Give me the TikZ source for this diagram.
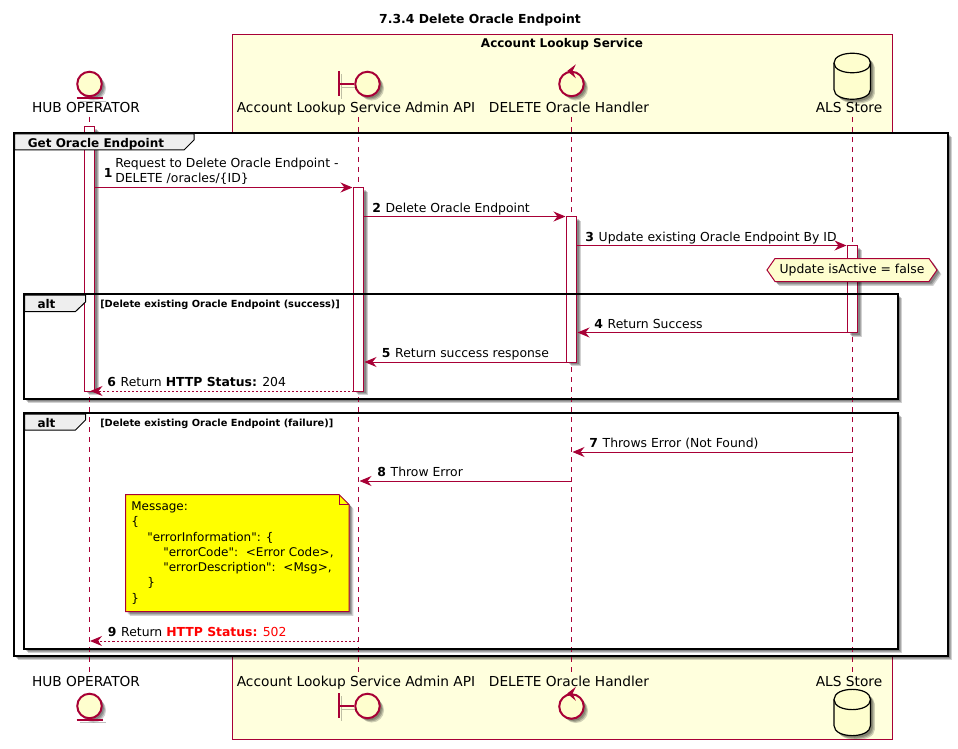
\documentclass[tikz,border=0pt]{standalone}
\usepackage{fontspec}
\setmainfont{DejaVu Sans}
\newfontfamily\notefont{DejaVu Sans}
\usetikzlibrary{arrows.meta,shadows,shapes.geometric}
\definecolor{crim}{HTML}{A80036}
\definecolor{actorfill}{HTML}{FEFECE}
\definecolor{boxfill}{HTML}{FFFFDD}
\definecolor{tabfill}{HTML}{EEEEEE}
\definecolor{noteyellow}{HTML}{FFFF00}
\definecolor{errred}{HTML}{FF0000}
\newcommand{\fnt}{\fontsize{9.3}{11.4}\selectfont}
\newcommand{\msg}[2]{\textbf{#1}\hspace{3.6pt}#2}
\tikzset{
 softshadow/.style={
  general shadow={shadow xshift=1.6pt,shadow yshift=-1.6pt,fill=black,opacity=.2},
  general shadow={shadow xshift=2.4pt,shadow yshift=-2.4pt,fill=black,opacity=.2},
  general shadow={shadow xshift=3.2pt,shadow yshift=-3.2pt,fill=black,opacity=.18}},
 lifeline/.style={draw=crim,line width=.75pt,dash pattern=on 3.75pt off 3.75pt},
 barbox/.style={draw=crim,fill=white,line width=.75pt,softshadow},
 frameborder/.style={draw=black,line width=1.5pt},
 tabbox/.style={draw=black,fill=tabfill,line width=.75pt},
 msgline/.style={draw=crim,line width=.75pt,-{Stealth[length=9pt,width=7.5pt,inset=3pt]}},
 retline/.style={msgline,dash pattern=on 1.5pt off 1.5pt},
 msglabel/.style={anchor=base west,inner sep=0,font=\fnt,text=black},
 actorlabel/.style={anchor=base,inner sep=0,font=\fontsize{10.3}{12}\selectfont},
 actorcirc/.style={circle,draw=crim,fill=actorfill,line width=1.5pt,minimum size=18.4pt,inner sep=0,softshadow},
 actormark/.style={draw=crim,line width=1.5pt,preaction={draw=black,opacity=.25,transform canvas={shift={(2.25pt,-2.25pt)}}}},
 chevron/.style={draw=crim,fill=crim,line width=.75pt},
 dbshape/.style={draw=black,fill=actorfill,line width=.9pt,softshadow},
 framelabel/.style={anchor=base,inner sep=0,font=\fontsize{9}{11}\selectfont\bfseries},
 guardlabel/.style={anchor=base west,inner sep=0,font=\fontsize{7.35}{9}\selectfont\bfseries},
}
\begin{document}
\begin{tikzpicture}[x=.75pt,y=-.75pt]
\useasboundingbox (0,0) rectangle (958,749);
\fill[white] (0,0) rectangle (958,749);
% box
\draw[crim,fill=boxfill,line width=.75pt] (232.5,34.5) rectangle (892.5,739.5);
\node[framelabel] (boxlabel) at (562,47.3) {Account Lookup Service};
\node[anchor=base,inner sep=0,font=\fontsize{9.3}{12}\selectfont\bfseries] (title) at (480,24) {7.3.4 Delete Oracle Endpoint};
% frames fills
\path[fill=white,softshadow] (13.5,133) rectangle (948,656);
\path[fill=white,softshadow] (23.5,294) rectangle (898,399);
\path[fill=white,softshadow] (23.5,413) rectangle (898,649);
% lifelines
\coordinate (l1t) at (89,117); \coordinate (l1b) at (89,672);
\coordinate (l2t) at (358.5,117); \coordinate (l2b) at (358.5,672);
\coordinate (l3t) at (571.5,117); \coordinate (l3b) at (571.5,672);
\coordinate (l4t) at (852.5,117); \coordinate (l4b) at (852.5,672);
\draw[lifeline] (l1t) -- (l1b);
\draw[lifeline] (l2t) -- (l2b);
\draw[lifeline] (l3t) -- (l3b);
\draw[lifeline] (l4t) -- (l4b);
% activation bars
\draw[barbox] (84.5,126.5) rectangle (94.5,391);
\draw[barbox] (353.5,187.5) rectangle (363.5,391);
\draw[barbox] (566.5,216.5) rectangle (576.5,362);
\draw[barbox] (847.5,245.5) rectangle (857.5,332.5);
% frames
\draw[frameborder] (13.5,133) rectangle (948,656);
\draw[tabbox] (14.5,134) -- (194,134) -- (194,140) -- (184,150) -- (14.5,150) -- cycle;
\draw[frameborder] (23.5,294) rectangle (898,399);
\draw[tabbox] (24.5,295) -- (85.5,295) -- (85.5,302) -- (75.5,311.5) -- (24.5,311.5) -- cycle;
\draw[frameborder] (23.5,413) rectangle (898,649);
\draw[tabbox] (24.5,414) -- (85.5,414) -- (85.5,420) -- (75.5,430) -- (24.5,430) -- cycle;
\node[framelabel] (grouplabel) at (96,147) {Get Oracle Endpoint};
\node[framelabel] (alt1) at (46.5,308) {alt};
\node[framelabel] (alt2) at (46.5,427) {alt};
\node[guardlabel] (g1) at (100,307) {[Delete existing Oracle Endpoint (success)]};
\node[guardlabel] (g2) at (100,426) {[Delete existing Oracle Endpoint (failure)]};
% actors top
\node[actorcirc] (e1) at (89.5,84) {};
\draw[actormark] (76.5,98) -- (102.5,98);
\node[actorcirc] (b1) at (367.5,84) {};
\draw[actormark] (338.5,71) -- (338.5,96);
\draw[actormark] (338.5,84) -- (b1);
\node[actorcirc] (c1) at (571.5,84) {};
\draw[chevron] (574.5,66) -- (568,71) -- (574.5,76.5) -- (572,71) -- cycle;
\draw[dbshape] (834,63) .. controls (834,50) and (870.5,50) .. (870.5,63) -- (870.5,89.5) .. controls (870.5,102.5) and (834,102.5) .. (834,89.5) -- cycle;
\draw[black,line width=.9pt] (834,63) .. controls (834,76) and (870.5,76) .. (870.5,63);
\node[actorlabel] (hubT) at (86,113) {HUB OPERATOR};
\node[actorlabel] (apiT) at (356,113) {Account Lookup Service Admin API};
\node[actorlabel] (delT) at (569,113) {DELETE Oracle Handler};
\node[actorlabel] (alsT) at (849,113) {ALS Store};
% actors bottom
\node[actorcirc] (e2) at (89.5,706) {};
\draw[actormark] (76.5,719.5) -- (102.5,719.5);
\node[actorcirc] (b2) at (367.5,706) {};
\draw[actormark] (338.5,693) -- (338.5,718);
\draw[actormark] (338.5,706) -- (b2);
\node[actorcirc] (c2) at (571.5,706.5) {};
\draw[chevron] (574.5,688.5) -- (568,693.5) -- (574.5,699) -- (572,693.5) -- cycle;
\draw[dbshape] (834,699.5) .. controls (834,686) and (870.5,686) .. (870.5,699.5) -- (870.5,725.5) .. controls (870.5,739) and (834,739) .. (834,725.5) -- cycle;
\draw[black,line width=.9pt] (834,699.5) .. controls (834,713) and (870.5,713) .. (870.5,699.5);
\node[actorlabel] (hubB) at (86,686) {HUB OPERATOR};
\node[actorlabel] (apiB) at (356,686) {Account Lookup Service Admin API};
\node[actorlabel] (delB) at (569,686) {DELETE Oracle Handler};
\node[actorlabel] (alsB) at (849,686) {ALS Store};
% messages
\coordinate (m1a) at (94.5,187.5); \coordinate (m1b) at (352.5,187.5);
\coordinate (m2a) at (363.5,216.5); \coordinate (m2b) at (565.5,216.5);
\coordinate (m3a) at (576.5,245.5); \coordinate (m3b) at (846.5,245.5);
\coordinate (m4a) at (847.5,332.5); \coordinate (m4b) at (577.5,332.5);
\coordinate (m5a) at (566.5,362); \coordinate (m5b) at (364.5,362);
\coordinate (m6a) at (353.5,391); \coordinate (m6b) at (90.5,391);
\coordinate (m7a) at (852.5,452); \coordinate (m7b) at (572.5,452);
\coordinate (m8a) at (571.5,481); \coordinate (m8b) at (359.5,481);
\coordinate (m9a) at (358.5,641); \coordinate (m9b) at (90,641);
\draw[msgline] (m1a) -- (m1b);
\draw[msgline] (m2a) -- (m2b);
\draw[msgline] (m3a) -- (m3b);
\draw[msgline] (m4a) -- (m4b);
\draw[msgline] (m5a) -- (m5b);
\draw[retline] (m6a) -- (m6b);
\draw[msgline] (m7a) -- (m7b);
\draw[msgline] (m8a) -- (m8b);
\draw[retline] (m9a) -- (m9b);
\node[msglabel] (t1n) at (103.5,178) {\textbf{1}};
\node[msglabel] (t1a) at (115,167) {Request to Delete Oracle Endpoint -};
\node[msglabel] (t1b) at (115,182) {DELETE /oracles/\{ID\}};
\node[msglabel] (t2) at (372,212) {\msg{2}{Delete Oracle Endpoint}};
\node[msglabel] (t3) at (585,241) {\msg{3}{Update existing Oracle Endpoint By ID}};
\node[msglabel] (t4) at (594,328) {\msg{4}{Return Success}};
\node[msglabel] (t5) at (381.5,357) {\msg{5}{Return success response}};
\node[msglabel] (t6) at (107,386.5) {\msg{6}{Return \textbf{HTTP Status:} 204}};
\node[msglabel] (t7) at (589,447) {\msg{7}{Throws Error (Not Found)}};
\node[msglabel] (t8) at (377,476.5) {\msg{8}{Throw Error}};
\node[msglabel] (t9) at (107.5,636.5) {\msg{9}{Return \textcolor{errred}{\textbf{HTTP Status:} 502}}};
% hexagon
\draw[draw=crim,fill=actorfill,line width=.75pt,softshadow] (767,270) -- (775,258.5) -- (929,258.5) -- (937,270) -- (929,281.5) -- (775,281.5) -- cycle;
\node[inner sep=0,font=\fnt] (hex) at (852,270.5) {Update isActive = false};
% note
\draw[draw=crim,fill=noteyellow,line width=.75pt,softshadow] (125.5,494.5) -- (339,494.5) -- (349,504.5) -- (349,611.5) -- (125.5,611.5) -- cycle;
\draw[draw=crim,line width=.75pt] (339,494.5) -- (339,504.5) -- (349,504.5);
\node[anchor=north west,inner sep=0,align=left,font=\notefont\fontsize{9}{11.45}\selectfont] (note) at (131,501.5) {Message:\\\{\\\hspace{12pt}"errorInformation": \{\\\hspace{24pt}"errorCode":\hspace{2pt} <Error Code>,\\\hspace{24pt}"errorDescription":\hspace{2pt} <Msg>,\\\hspace{12pt}\}\\\}};
\end{tikzpicture}
\end{document}
